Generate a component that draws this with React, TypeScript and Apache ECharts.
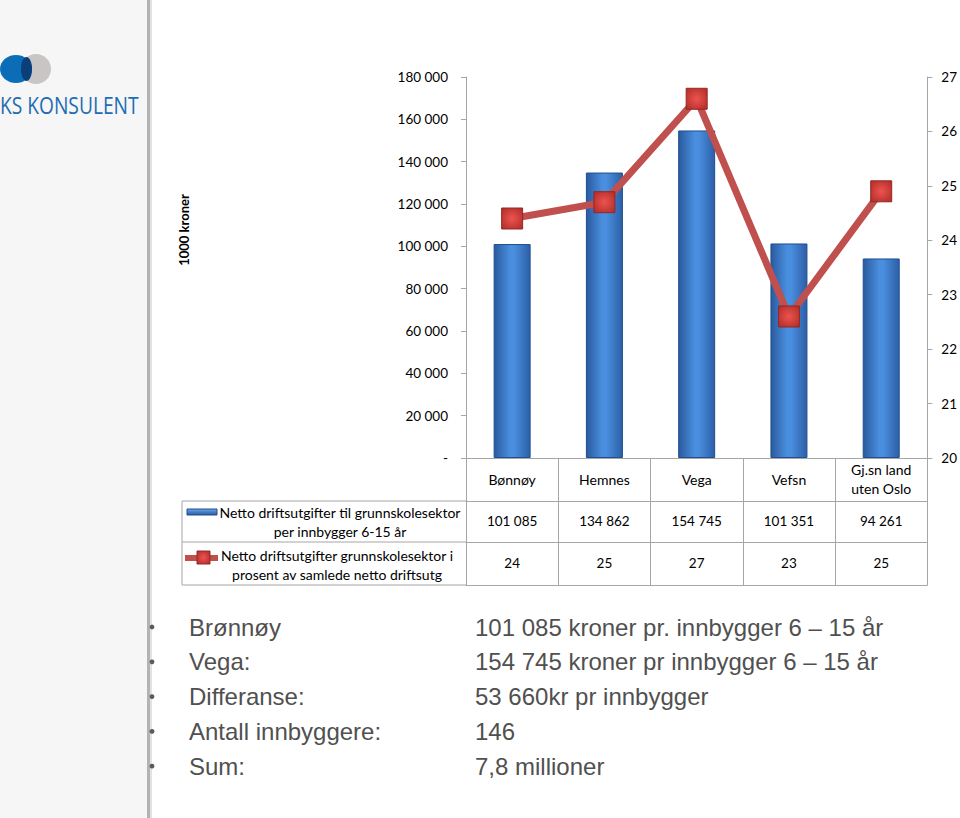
import React, { useEffect, useRef } from 'react';
import * as echarts from 'echarts';

const categories = ['Bønnøy', 'Hemnes', 'Vega', 'Vefsn', 'Gj.sn land\nuten Oslo'];
const barValues = [101085, 134862, 154745, 101351, 94261];
const lineValues = [24.4, 24.7, 26.6, 22.6, 24.9];
const lineTableValues = [24, 25, 27, 23, 25];
const barSeriesName = 'Netto driftsutgifter til grunnskolesektor per innbygger 6-15 år';
const lineSeriesName = 'Netto driftsutgifter grunnskolesektor i prosent av samlede netto driftsutg';
const legendLines1 = ['Netto driftsutgifter til grunnskolesektor', 'per innbygger 6-15 år'];
const legendLines2 = ['Netto driftsutgifter grunnskolesektor i', 'prosent av samlede netto driftsutg'];
const yAxisTitle = '1000 kroner';
const logoText = 'KS KONSULENT';
const bulletLabels = ['Brønnøy', 'Vega:', 'Differanse:', 'Antall innbyggere:', 'Sum:'];
const bulletValues = [
  '101 085 kroner pr. innbygger 6 – 15 år',
  '154 745 kroner pr innbygger 6 – 15 år',
  '53 660kr pr innbygger',
  '146',
  '7,8 millioner',
];

const fmt = (n: number) => String(n).replace(/\B(?=(\d{3})+(?!\d))/g, ' ');

const FONT = 'Lato';
const GRID_LEFT = 466;
const GRID_RIGHT = 930;
const GRID_TOP = 77;
const GRID_BOTTOM = 458;
const AXIS_GRAY = '#a6a6a6';

export default function App() {
  const ref = useRef<HTMLDivElement>(null);

  useEffect(() => {
    if (!ref.current) return;
    const chart = echarts.init(ref.current, undefined, { renderer: 'svg' });

    const barGradient = new echarts.graphic.LinearGradient(0, 0, 1, 0, [
      { offset: 0, color: '#2a5a9e' },
      { offset: 0.45, color: '#4a8fdf' },
      { offset: 0.55, color: '#4a8fdf' },
      { offset: 1, color: '#2c5fa6' },
    ]);
    const markerGradient = new echarts.graphic.RadialGradient(0.5, 0.5, 0.7, [
      { offset: 0, color: '#ec5450' },
      { offset: 1, color: '#b02a26' },
    ]);

    const graphic: any[] = [];
    // sidebar
    graphic.push({ type: 'rect', shape: { x: 0, y: 0, width: 147, height: 818 }, style: { fill: '#f6f6f6' }, silent: true, z: -10 });
    graphic.push({ type: 'rect', shape: { x: 147, y: 0, width: 3, height: 818 }, style: { fill: '#b3b3b3' }, silent: true, z: -9 });
    graphic.push({ type: 'rect', shape: { x: 150, y: 0, width: 2, height: 818 }, style: { fill: '#e2e2e2' }, silent: true, z: -9 });
    // logo
    graphic.push({ type: 'ellipse', shape: { cx: 36, cy: 69, rx: 15, ry: 15 }, style: { fill: '#c9c5c4' }, z: 1 });
    graphic.push({ type: 'ellipse', shape: { cx: 16, cy: 69, rx: 16, ry: 14 }, style: { fill: '#0b6db8' }, z: 2 });
    graphic.push({ type: 'ellipse', shape: { cx: 26.5, cy: 69, rx: 5.5, ry: 12 }, style: { fill: '#0b3f7a' }, z: 3 });
    graphic.push({
      type: 'text', x: 0, y: 105, scaleX: 0.8,
      style: { text: logoText, font: '24px "Open Sans"', fill: '#1d6db4', textVerticalAlign: 'middle' },
    });
    // y axis title
    graphic.push({
      type: 'text', x: 184, y: 230, rotation: Math.PI / 2,
      style: { text: yAxisTitle, font: 'bold 13px Lato', fill: '#000', textAlign: 'center', textVerticalAlign: 'middle' },
    });
    // legend box lines
    [501, 542, 585].forEach((y) => {
      graphic.push({ type: 'line', shape: { x1: 182, y1: y, x2: GRID_LEFT, y2: y }, style: { stroke: AXIS_GRAY, lineWidth: 1 } });
    });
    graphic.push({ type: 'line', shape: { x1: 182, y1: 501, x2: 182, y2: 585 }, style: { stroke: AXIS_GRAY, lineWidth: 1 } });
    // legend icons
    graphic.push({
      type: 'rect', shape: { x: 187, y: 509, width: 30, height: 6 },
      style: {
        fill: new echarts.graphic.LinearGradient(0, 0, 0, 1, [
          { offset: 0, color: '#6aa6ec' },
          { offset: 1, color: '#2a5a9e' },
        ]),
        stroke: '#1f4f8f', lineWidth: 1,
      },
    });
    graphic.push({ type: 'line', shape: { x1: 185, y1: 558, x2: 218, y2: 558 }, style: { stroke: '#c0504d', lineWidth: 6 } });
    graphic.push({
      type: 'rect', shape: { x: 197, y: 551, width: 13, height: 13 },
      style: { fill: markerGradient, stroke: '#8f2a27', lineWidth: 1 },
    });
    // legend texts
    legendLines1.forEach((t, i) => {
      graphic.push({ type: 'text', x: 340, y: 512 + i * 19, style: { text: t, font: '14px Lato', fill: '#000', textAlign: 'center', textVerticalAlign: 'middle' } });
    });
    legendLines2.forEach((t, i) => {
      graphic.push({ type: 'text', x: 337, y: 555 + i * 19, style: { text: t, font: '14px Lato', fill: '#000', textAlign: 'center', textVerticalAlign: 'middle' } });
    });
    // bullets
    bulletLabels.forEach((t, i) => {
      const y = 627 + i * 34.8;
      graphic.push({ type: 'circle', shape: { cx: 152, cy: y, r: 2.4 }, style: { fill: '#5a5a5a' } });
      graphic.push({ type: 'text', x: 189, y, style: { text: t, font: '24px "Liberation Sans"', fill: '#505050', textVerticalAlign: 'middle' } });
      graphic.push({ type: 'text', x: 475, y, style: { text: bulletValues[i], font: '24px "Liberation Sans"', fill: '#505050', textVerticalAlign: 'middle' } });
    });

    const tableLabel = { interval: 0, verticalAlign: 'middle', fontSize: 13.5, fontFamily: FONT, color: '#000', lineHeight: 19 };

    chart.setOption({
      animation: false,
      textStyle: { fontFamily: FONT },
      grid: { left: GRID_LEFT, right: 960 - GRID_RIGHT, top: GRID_TOP, height: GRID_BOTTOM - GRID_TOP },
      xAxis: [
        {
          type: 'category', data: categories, position: 'bottom', offset: 0,
          axisLine: { show: true, lineStyle: { color: AXIS_GRAY } },
          axisTick: { show: true, interval: 0, length: 127, lineStyle: { color: AXIS_GRAY } },
          axisLabel: { ...tableLabel, fontSize: 14, margin: 21 },
        },
        {
          type: 'category', data: barValues.map(fmt), position: 'bottom', offset: 43,
          axisLine: { show: true, lineStyle: { color: AXIS_GRAY } },
          axisTick: { show: false },
          axisLabel: { ...tableLabel, margin: 20 },
        },
        {
          type: 'category', data: lineTableValues.map(String), position: 'bottom', offset: 84,
          axisLine: { show: true, lineStyle: { color: AXIS_GRAY } },
          axisTick: { show: false },
          axisLabel: { ...tableLabel, margin: 21 },
        },
        {
          type: 'category', data: categories, position: 'bottom', offset: 127,
          axisLine: { show: true, lineStyle: { color: AXIS_GRAY } },
          axisTick: { show: false },
          axisLabel: { show: false },
        },
      ],
      yAxis: [
        {
          type: 'value', min: 0, max: 180000, interval: 20000, position: 'left',
          axisLine: { show: true, lineStyle: { color: AXIS_GRAY } },
          axisTick: { show: true, length: 5, lineStyle: { color: AXIS_GRAY } },
          splitLine: { show: false },
          axisLabel: { margin: 18, fontSize: 13.5, color: '#000', fontFamily: FONT, formatter: (v: number) => (v === 0 ? '-' : fmt(v)) },
        },
        {
          type: 'value', min: 20, max: 27, interval: 1, position: 'right',
          axisLine: { show: true, lineStyle: { color: AXIS_GRAY } },
          axisTick: { show: true, length: 5, lineStyle: { color: AXIS_GRAY } },
          splitLine: { show: false },
          axisLabel: { margin: 14, fontSize: 13.5, color: '#000', fontFamily: FONT },
        },
      ],
      series: [
        {
          name: barSeriesName, type: 'bar', xAxisIndex: 0, yAxisIndex: 0, data: barValues, barWidth: 37,
          itemStyle: { color: barGradient, borderColor: '#1f4f8f', borderWidth: 1 },
        },
        {
          name: lineSeriesName, type: 'line', xAxisIndex: 0, yAxisIndex: 1, data: lineValues,
          symbol: 'rect', symbolSize: 21, z: 5,
          lineStyle: { color: '#c0504d', width: 7 },
          itemStyle: { color: markerGradient, borderColor: '#8f2a27', borderWidth: 1 },
        },
      ],
      graphic,
    });

    return () => chart.dispose();
  }, []);

  return (
    <div
      ref={ref}
      style={{ position: 'absolute', left: 0, top: 0, width: 960, height: 818, background: '#fff' }}
    />
  );
}
